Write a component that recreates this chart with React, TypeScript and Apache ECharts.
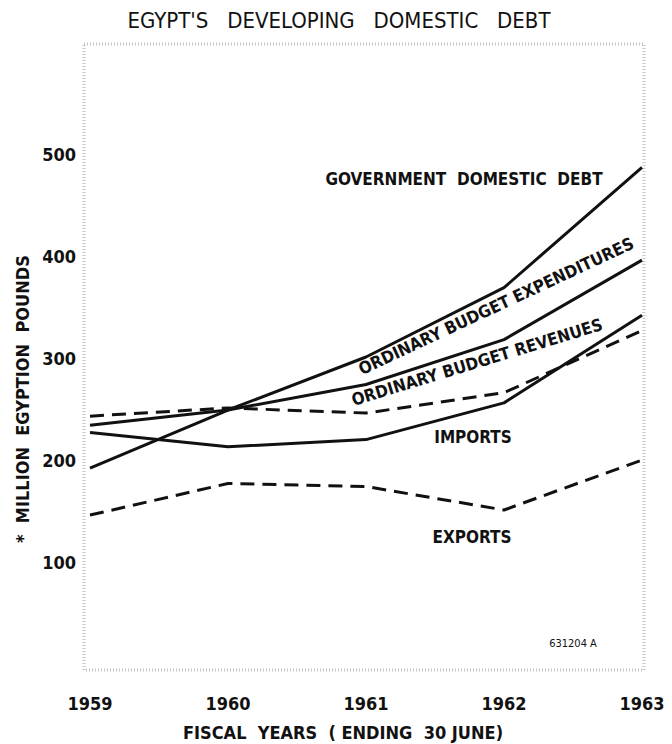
import React, { useEffect, useRef } from "react";
import * as echarts from "echarts";

const years = ["1959", "1960", "1961", "1962", "1963"];
const yTicks = [100, 200, 300, 400, 500];
const governmentDomesticDebt = [192, 249, 301, 369, 487];
const budgetExpenditures = [234, 249, 274, 318, 396];
const budgetRevenues = [243, 251, 246, 266, 327];
const imports = [227, 213, 220, 256, 342];
const exportsData = [146, 177, 174, 151, 200];

const FONT = "'DejaVu Sans Condensed', 'DejaVu Sans', sans-serif";

export default function App() {
  const ref = useRef<HTMLDivElement>(null);
  useEffect(() => {
    if (!ref.current) return;
    const chart = echarts.init(ref.current, undefined, { renderer: "svg" });
    const solid = { color: "#111", width: 3, type: "solid" as const };
    const dashed = { color: "#111", width: 3, type: [14, 8] as any };
    const mk = (name: string, data: number[], ls: any) => ({
      name,
      type: "line",
      data,
      symbol: "none",
      lineStyle: ls,
      z: 5,
    });
    const lbl = (text: string, x: number, y: number, size: number, rot = 0, weight = "bold") => ({
      type: "text",
      x,
      y,
      rotation: rot,
      z: 10,
      style: {
        text,
        font: `${weight} ${size}px ${FONT}`,
        fill: "#111",
        textAlign: "center",
        textVerticalAlign: "middle",
      },
    });
    chart.setOption({
      animation: false,
      backgroundColor: "#fff",
      grid: { left: 90, right: 30, top: 52, bottom: 80 },
      xAxis: {
        type: "category",
        data: years,
        boundaryGap: false,
        axisLine: { show: false },
        axisTick: { show: false },
        axisLabel: {
          margin: 30,
          fontFamily: FONT,
          fontWeight: "bold",
          fontSize: 18,
          color: "#111",
        },
        splitLine: { show: false },
      },
      yAxis: {
        type: "value",
        min: 0,
        max: 600,
        interval: 100,
        axisLine: { show: false },
        axisTick: { show: false },
        splitLine: { show: false },
        axisLabel: {
          margin: 14,
          fontFamily: FONT,
          fontWeight: "bold",
          fontSize: 18,
          color: "#111",
          formatter: (v: number) => (yTicks.includes(v) ? String(v) : ""),
        },
      },
      graphic: [
        {
          type: "rect",
          shape: { x: 84, y: 44, width: 560, height: 626 },
          style: { fill: "none", stroke: "#c4c4c4", lineWidth: 3, lineDash: [1, 2] },
          z: 1,
        },
        lbl("EGYPT'S   DEVELOPING   DOMESTIC   DEBT", 339, 20, 22, 0, "normal"),
        lbl("*  MILLION  EGYPTION  POUNDS", 22, 399, 18, Math.PI / 2),
        lbl("FISCAL  YEARS  ( ENDING  30 JUNE)", 343, 732, 18),
        lbl("GOVERNMENT  DOMESTIC  DEBT", 464, 179, 17),
        lbl("ORDINARY BUDGET EXPENDITURES", 496, 306, 17, (25 * Math.PI) / 180),
        lbl("ORDINARY BUDGET REVENUES", 477, 362, 17, (17 * Math.PI) / 180),
        lbl("IMPORTS", 473, 437, 17),
        lbl("EXPORTS", 472, 537, 17),
        lbl("631204 A", 573, 643, 11, 0, "normal"),
      ],
      series: [
        mk("Government Domestic Debt", governmentDomesticDebt, solid),
        mk("Ordinary Budget Expenditures", budgetExpenditures, solid),
        mk("Ordinary Budget Revenues", budgetRevenues, dashed),
        mk("Imports", imports, solid),
        mk("Exports", exportsData, dashed),
      ],
    });
    return () => chart.dispose();
  }, []);
  return <div ref={ref} style={{ width: 672, height: 744, position: "absolute", left: 0, top: 0 }} />;
}
